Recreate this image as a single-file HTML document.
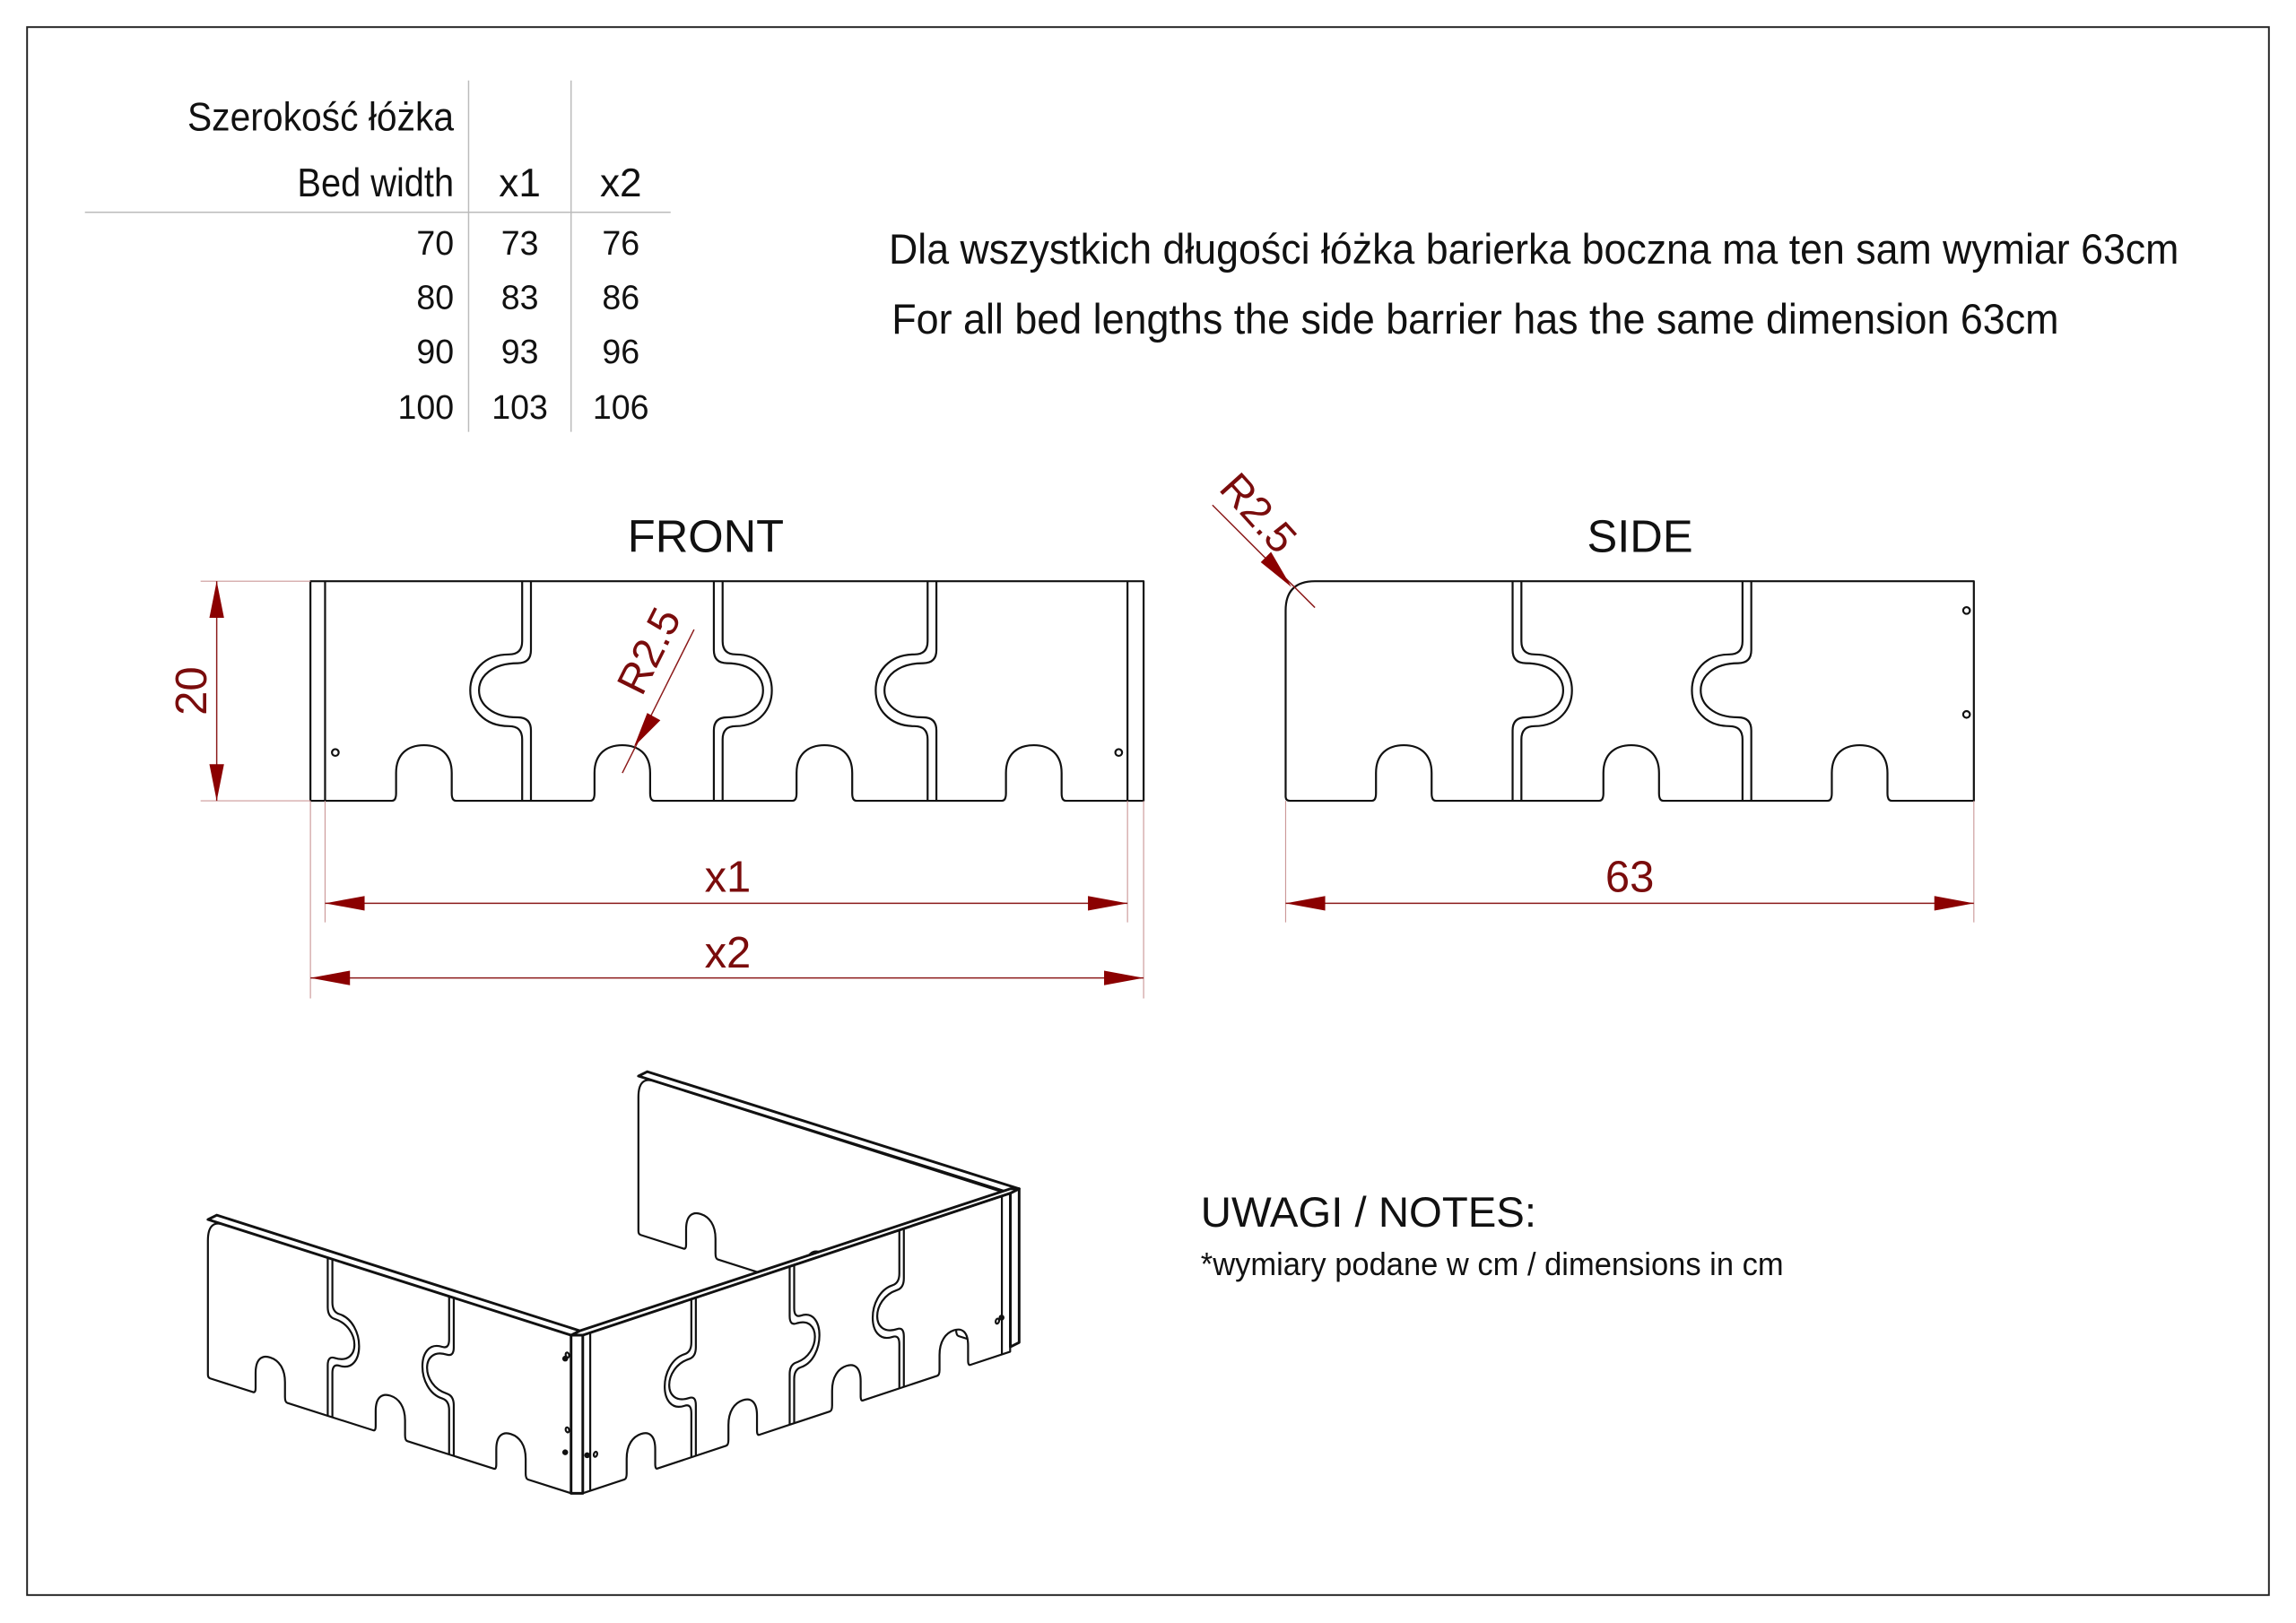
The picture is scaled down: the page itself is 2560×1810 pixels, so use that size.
<!DOCTYPE html>
<html><head><meta charset="utf-8"><style>
html,body{margin:0;padding:0;background:#fff;}
svg{display:block;}
text{font-family:"Liberation Sans Narrow","Liberation Sans",sans-serif;fill:#111;}
.r{fill:#7a0c0c;}
.o{fill:none;stroke:#111;stroke-width:2.2;stroke-linejoin:round;}
.ow{fill:#fff;stroke:#111;stroke-width:2.2;stroke-linejoin:round;}
.d{stroke:#8b1a1a;stroke-width:0.9;fill:none;}
.e{stroke:#c99;stroke-width:0.7;fill:none;}
.g{stroke:#bbb;stroke-width:0.9;}
</style></head><body>
<svg width="2560" height="1810" viewBox="0 0 1568 1108.6" preserveAspectRatio="none" xmlns="http://www.w3.org/2000/svg">
<defs>
<g id="frontP"><path id="fo" class="ow" vector-effect="non-scaling-stroke"/><g id="fj"></g>
<line x1="222" y1="397" x2="222" y2="547" class="o" vector-effect="non-scaling-stroke"/>
<line x1="770" y1="397" x2="770" y2="547" class="o" vector-effect="non-scaling-stroke"/>
<circle cx="229" cy="514" r="2.3" class="o" vector-effect="non-scaling-stroke"/>
<circle cx="764" cy="514" r="2.3" class="o" vector-effect="non-scaling-stroke"/></g>
<g id="sideP"><path id="so" class="ow" vector-effect="non-scaling-stroke"/><g id="sj"></g>
<circle cx="1343" cy="417" r="2.3" class="o" vector-effect="non-scaling-stroke"/>
<circle cx="1343" cy="488" r="2.3" class="o" vector-effect="non-scaling-stroke"/></g>
<g id="backP"><path id="bo" class="ow" vector-effect="non-scaling-stroke"/></g>
</defs>
<rect x="18.5" y="18.5" width="1531" height="1071" fill="none" stroke="#222" stroke-width="1.2"/>

<line x1="320" y1="55" x2="320" y2="295" class="g"/>
<line x1="390" y1="55" x2="390" y2="295" class="g"/>
<line x1="58" y1="145" x2="458" y2="145" class="g"/>
<text x="128" y="89" font-size="27" textLength="182" lengthAdjust="spacingAndGlyphs">Szerokość łóżka</text>
<text x="203" y="134" font-size="27" textLength="107" lengthAdjust="spacingAndGlyphs">Bed width</text>
<g font-size="27" text-anchor="middle"><text x="355" y="134">x1</text><text x="424" y="134">x2</text></g>
<g font-size="23">
<g text-anchor="end"><text x="310" y="174">70</text><text x="310" y="211">80</text><text x="310" y="248">90</text><text x="310" y="286">100</text></g>
<g text-anchor="middle"><text x="355" y="174">73</text><text x="355" y="211">83</text><text x="355" y="248">93</text><text x="355" y="286">103</text>
<text x="424" y="174">76</text><text x="424" y="211">86</text><text x="424" y="248">96</text><text x="424" y="286">106</text></g></g>

<text x="607" y="180" font-size="29" textLength="881" lengthAdjust="spacingAndGlyphs">Dla wszystkich długości łóżka barierka boczna ma ten sam wymiar 63cm</text>
<text x="609" y="228" font-size="29" textLength="797" lengthAdjust="spacingAndGlyphs">For all bed lengths the side barrier has the same dimension 63cm</text>

<text x="482" y="377" font-size="31" text-anchor="middle">FRONT</text>
<text x="1120" y="377" font-size="31" text-anchor="middle">SIDE</text>

<use href="#frontP"/>
<use href="#sideP"/>

<line x1="137" y1="397" x2="212" y2="397" class="e"/>
<line x1="137" y1="547" x2="212" y2="547" class="e"/>
<line x1="148" y1="397" x2="148" y2="547" class="d"/>
<polygon points="148,397 143,422 153,422" fill="#8b0000"/>
<polygon points="148,547 143,522 153,522" fill="#8b0000"/>
<text class="r" font-size="30" text-anchor="middle" transform="translate(141,472) rotate(-90)">20</text>

<line x1="222" y1="547" x2="222" y2="630" class="e"/>
<line x1="770" y1="547" x2="770" y2="630" class="e"/>
<line x1="212" y1="547" x2="212" y2="682" class="e"/>
<line x1="781" y1="547" x2="781" y2="682" class="e"/>
<line x1="222" y1="617" x2="770" y2="617" class="d"/>
<polygon points="222,617 249,612 249,622" fill="#8b0000"/>
<polygon points="770,617 743,612 743,622" fill="#8b0000"/>
<text class="r" x="497" y="609" font-size="30" text-anchor="middle">x1</text>
<line x1="212" y1="668" x2="781" y2="668" class="d"/>
<polygon points="212,668 239,663 239,673" fill="#8b0000"/>
<polygon points="781,668 754,663 754,673" fill="#8b0000"/>
<text class="r" x="497" y="661" font-size="30" text-anchor="middle">x2</text>

<line x1="474" y1="430" x2="425" y2="528" class="d"/>
<polygon points="433,510 442,487 451,492" fill="#8b0000"/>
<text class="r" font-size="29" text-anchor="middle" transform="translate(452,449) rotate(-63.4)">R2.5</text>

<line x1="878" y1="547" x2="878" y2="630" class="e"/>
<line x1="1348" y1="547" x2="1348" y2="630" class="e"/>
<line x1="878" y1="617" x2="1348" y2="617" class="d"/>
<polygon points="878,617 905,612 905,622" fill="#8b0000"/>
<polygon points="1348,617 1321,612 1321,622" fill="#8b0000"/>
<text class="r" x="1113" y="609" font-size="30" text-anchor="middle">63</text>
<line x1="828" y1="345" x2="898" y2="415" class="d"/>
<polygon points="882,401 861,384 868,377" fill="#8b0000"/>
<text class="r" font-size="29" text-anchor="middle" transform="translate(852,357) rotate(48)">R2.5</text>

<!-- isometric -->
<use href="#backP" transform="matrix(0.528,0.168,0,0.72,-27.6,301.7)"/>
<polygon points="436,735 442,732 696,812 690,815" fill="#fff" stroke="#111" stroke-width="1.8" stroke-linejoin="round"/>
<use href="#frontP" transform="matrix(0.513,-0.170,0,0.72,289.2,662.2)"/>
<polygon points="690,815 696,812 696,917 690,920" fill="#fff" stroke="#111" stroke-width="1.8" stroke-linejoin="round"/>
<polygon points="390,912 396,909 690,812 696,812 690,815 398,912" fill="#fff" stroke="#111" stroke-width="1.8" stroke-linejoin="round"/>
<use href="#sideP" transform="matrix(0.528,0.168,0,0.72,-321.6,399.7)"/>
<polygon points="142,833 148,830 396,909 390,912" fill="#fff" stroke="#111" stroke-width="1.8" stroke-linejoin="round"/>
<polygon points="390,912 398,912 398,1020 390,1020" fill="#fff" stroke="#111" stroke-width="1.8" stroke-linejoin="round"/>
<circle cx="386" cy="928" r="2" fill="#111"/><circle cx="386" cy="992" r="2" fill="#111"/><circle cx="401" cy="994" r="2" fill="#111"/><circle cx="684" cy="900" r="2" fill="#111"/>

<text x="820" y="838" font-size="29">UWAGI / NOTES:</text>
<text x="820" y="871" font-size="22" textLength="398" lengthAdjust="spacingAndGlyphs">*wymiary podane w cm / dimensions in cm</text>
</svg>
<script>
function notches(cs){var s='';cs.forEach(function(c){var w=19;s+=' L'+(c-w-3)+',547 Q'+(c-w)+',547 '+(c-w)+',542 L'+(c-w)+',528 C'+(c-w)+',515 '+(c-w+8)+',509 '+c+',509 C'+(c+w-8)+',509 '+(c+w)+',515 '+(c+w)+',528 L'+(c+w)+',542 Q'+(c+w)+',547 '+(c+w+3)+',547';});return s;}
function joint(j,d,dep,y1,y2){var k=j+d*9,m=j+d*(dep*1.23);return 'M'+j+',397 V'+(y1-9)+' Q'+j+','+y1+' '+k+','+y1+' C'+m+','+y1+' '+m+','+y2+' '+k+','+y2+' Q'+j+','+y2+' '+j+','+(y2+9)+' V547';}
function joints(list){var s='';list.forEach(function(a){var c=a[0],d=a[1],dep=a[2];s+='<path class="o" vector-effect="non-scaling-stroke" d="'+joint(c+3*d,d,dep,447,496)+'"/>';s+='<path class="o" vector-effect="non-scaling-stroke" d="'+joint(c-3*d,d,dep,453,490)+'"/>';});return s;}
(function(){var s='M212,547'+notches([289.5,425,563,706])+' L781,547 V397 H212 Z';document.getElementById('fo').setAttribute('d',s);})();
var sideD='M881,547'+notches([958.7,1114,1270])+' L1348,547 V397 H898 Q878,397 878,417 V544 Q878,547 881,547 Z';
document.getElementById('so').setAttribute('d',sideD);
document.getElementById('bo').setAttribute('d',sideD);
document.getElementById('fj').innerHTML=joints([[359.6,-1,36],[490.5,1,34],[636.5,-1,36]]);
document.getElementById('sj').innerHTML=joints([[1036,1,35],[1193,-1,35]]);
</script>
</body></html>
